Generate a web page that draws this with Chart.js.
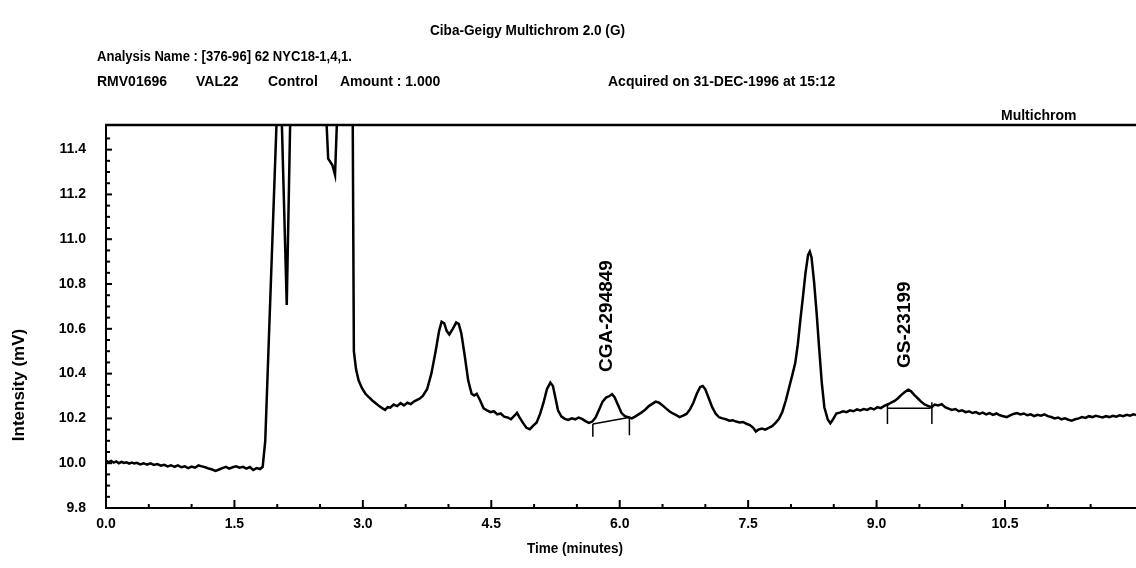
<!DOCTYPE html>
<html>
<head>
<meta charset="utf-8">
<script src="https://cdn.jsdelivr.net/npm/chart.js@4.4.1/dist/chart.umd.min.js"></script>
<style>
  html, body { margin: 0; padding: 0; background: #fff; }
  #wrap { width: 1136px; height: 568px; }
</style>
</head>
<body>
<div id="wrap"><canvas id="chart" width="1136" height="568"></canvas></div>
<script>
// trace, time in minutes / intensity in mV
const times = [
  0.00, 0.03, 0.06, 0.09, 0.12, 0.15, 0.18, 0.21, 0.24, 0.27,
  0.30, 0.33, 0.36, 0.40, 0.44, 0.48, 0.52, 0.56, 0.60, 0.64,
  0.68, 0.72, 0.76, 0.80, 0.84, 0.88, 0.92, 0.96, 1.00, 1.04,
  1.08, 1.12, 1.16, 1.20, 1.24, 1.28, 1.32, 1.36, 1.40, 1.44,
  1.48, 1.52, 1.56, 1.60, 1.64, 1.68, 1.72, 1.76, 1.80, 1.83,
  1.86, 1.99, 2.02, 2.055, 2.111, 2.15, 2.30, 2.578, 2.595, 2.645,
  2.675, 2.695, 2.80, 2.882, 2.895, 2.92, 2.95, 2.99, 3.03, 3.07,
  3.11, 3.15, 3.19, 3.23, 3.26, 3.29, 3.32, 3.36, 3.40, 3.44,
  3.48, 3.52, 3.56, 3.60, 3.64, 3.67, 3.70, 3.75, 3.80, 3.85,
  3.89, 3.92, 3.95, 3.98, 4.01, 4.05, 4.09, 4.12, 4.15, 4.19,
  4.23, 4.27, 4.30, 4.33, 4.37, 4.41, 4.45, 4.49, 4.53, 4.57,
  4.61, 4.65, 4.69, 4.73, 4.77, 4.80, 4.83, 4.87, 4.91, 4.95,
  4.99, 5.03, 5.07, 5.11, 5.15, 5.19, 5.22, 5.25, 5.28, 5.32,
  5.36, 5.40, 5.44, 5.48, 5.52, 5.56, 5.60, 5.64, 5.68, 5.72,
  5.76, 5.80, 5.84, 5.88, 5.91, 5.94, 5.98, 6.02, 6.06, 6.10,
  6.14, 6.18, 6.22, 6.26, 6.30, 6.34, 6.38, 6.42, 6.46, 6.50,
  6.54, 6.58, 6.62, 6.66, 6.70, 6.74, 6.78, 6.82, 6.86, 6.90,
  6.94, 6.97, 7.00, 7.04, 7.08, 7.12, 7.16, 7.20, 7.24, 7.28,
  7.32, 7.36, 7.40, 7.44, 7.48, 7.52, 7.56, 7.59, 7.62, 7.66,
  7.70, 7.74, 7.78, 7.82, 7.86, 7.90, 7.94, 7.98, 8.02, 8.05,
  8.08, 8.11, 8.14, 8.17, 8.20, 8.22, 8.24, 8.27, 8.30, 8.33,
  8.36, 8.39, 8.43, 8.46, 8.49, 8.53, 8.57, 8.61, 8.65, 8.69,
  8.73, 8.77, 8.81, 8.85, 8.89, 8.93, 8.97, 9.01, 9.05, 9.09,
  9.13, 9.17, 9.21, 9.25, 9.29, 9.33, 9.37, 9.40, 9.44, 9.48,
  9.52, 9.56, 9.60, 9.64, 9.68, 9.72, 9.76, 9.80, 9.84, 9.88,
  9.92, 9.96, 10.00, 10.04, 10.08, 10.12, 10.16, 10.20, 10.24, 10.28,
  10.32, 10.36, 10.40, 10.44, 10.48, 10.52, 10.56, 10.60, 10.64, 10.68,
  10.72, 10.76, 10.80, 10.84, 10.88, 10.92, 10.96, 11.00, 11.04, 11.08,
  11.12, 11.16, 11.20, 11.24, 11.28, 11.32, 11.36, 11.40, 11.44, 11.48,
  11.52, 11.56, 11.60, 11.64, 11.68, 11.72, 11.76, 11.80, 11.84, 11.88,
  11.92, 11.96, 12.00, 12.03
];
const intensity = [
  10.012, 10.004, 10.010, 10.003, 10.008, 10.000, 10.006, 10.001, 10.004, 9.998,
  10.003, 9.999, 10.002, 9.995, 10.000, 9.994, 9.999, 9.992, 9.996, 9.989,
  9.993, 9.986, 9.991, 9.984, 9.990, 9.982, 9.986, 9.978, 9.985, 9.980,
  9.990, 9.986, 9.982, 9.976, 9.972, 9.966, 9.972, 9.978, 9.984, 9.976,
  9.982, 9.986, 9.980, 9.984, 9.976, 9.983, 9.970, 9.978, 9.974, 9.984,
  10.10, 11.50, 12.30, 11.50, 10.706, 11.50, 12.50, 11.50, 11.36, 11.33,
  11.287, 11.50, 12.50, 11.50, 10.50, 10.42, 10.37, 10.335, 10.31, 10.295,
  10.28, 10.268, 10.255, 10.245, 10.238, 10.25, 10.248, 10.262, 10.255, 10.268,
  10.258, 10.27, 10.264, 10.276, 10.284, 10.29, 10.30, 10.33, 10.40, 10.50,
  10.59, 10.632, 10.625, 10.59, 10.575, 10.60, 10.628, 10.622, 10.58, 10.48,
  10.37, 10.31, 10.302, 10.31, 10.28, 10.245, 10.236, 10.228, 10.232, 10.218,
  10.222, 10.208, 10.204, 10.196, 10.212, 10.225, 10.205, 10.18, 10.158, 10.152,
  10.168, 10.182, 10.22, 10.27, 10.33, 10.36, 10.345, 10.29, 10.235, 10.208,
  10.198, 10.193, 10.20, 10.196, 10.204, 10.198, 10.188, 10.18, 10.186, 10.205,
  10.24, 10.275, 10.293, 10.30, 10.308, 10.295, 10.26, 10.225, 10.21, 10.205,
  10.20, 10.208, 10.218, 10.228, 10.24, 10.255, 10.265, 10.275, 10.27, 10.258,
  10.245, 10.232, 10.222, 10.215, 10.206, 10.212, 10.22, 10.24, 10.27, 10.31,
  10.34, 10.345, 10.33, 10.29, 10.25, 10.222, 10.205, 10.20, 10.196, 10.19,
  10.192, 10.186, 10.182, 10.184, 10.176, 10.17, 10.158, 10.142, 10.15, 10.155,
  10.15, 10.158, 10.165, 10.18, 10.198, 10.23, 10.28, 10.34, 10.40, 10.447,
  10.53, 10.64, 10.743, 10.85, 10.93, 10.945, 10.92, 10.81, 10.67, 10.51,
  10.36, 10.25, 10.195, 10.178, 10.195, 10.222, 10.226, 10.232, 10.228, 10.236,
  10.232, 10.24, 10.236, 10.242, 10.238, 10.246, 10.24, 10.25, 10.246, 10.256,
  10.262, 10.27, 10.278, 10.29, 10.305, 10.318, 10.328, 10.322, 10.305, 10.29,
  10.275, 10.262, 10.256, 10.25, 10.262, 10.258, 10.264, 10.25, 10.244, 10.238,
  10.242, 10.232, 10.236, 10.228, 10.232, 10.224, 10.228, 10.22, 10.226, 10.218,
  10.224, 10.216, 10.222, 10.214, 10.21, 10.206, 10.214, 10.22, 10.224, 10.218,
  10.222, 10.214, 10.218, 10.21, 10.216, 10.212, 10.218, 10.21, 10.206, 10.20,
  10.204, 10.196, 10.20, 10.194, 10.19, 10.196, 10.20, 10.206, 10.202, 10.21,
  10.206, 10.212, 10.208, 10.204, 10.21, 10.206, 10.212, 10.208, 10.214, 10.21,
  10.216, 10.212, 10.218, 10.215
];

// integration baselines and their drop marks
const cgaBaseT = [5.686, 6.121];
const cgaBaseV = [10.175, 10.205];
const cgaMarkT = [5.686, 6.113];
const cgaMarkHigh = [10.175, 10.203];
const cgaMarkLow = [10.118, 10.125];
const gsBaseT = [9.127, 9.630];
const gsBaseV = [10.245, 10.245];
const gsMarkT = [9.127, 9.646];
const gsMarkHigh = [10.268, 10.272];
const gsMarkLow = [10.175, 10.175];

// peak names and where they sit
const peakNames = ["CGA-294849", "GS-23199"];
const peakTimes = [5.853, 9.334];
const peakLabelBase = [10.407, 10.425];

const xMin = 0, xMax = 12.03, xStep = 0.5, xLabelStep = 1.5, xLastLabel = 10.5;
const yMin = 9.8, yMax = 11.51, yStep = 0.05, yLabelStep = 0.2;

if (times.length !== intensity.length) console.warn("trace arrays differ", times.length, intensity.length);

const narrow = "'Liberation Sans Narrow', 'Arial Narrow', 'Liberation Sans', Arial, sans-serif";
const isMult = (v, s) => Math.abs(v / s - Math.round(v / s)) < 1e-6;

const pts = (ts, vs) => ts.map((t, i) => ({ x: t, y: vs[i] }));
const marks = (ts, hi, lo) => {
  const out = [];
  ts.forEach((t, i) => {
    out.push({ x: t, y: hi[i] }, { x: t, y: lo[i] }, { x: t, y: null });
  });
  return out;
};

const lineSet = (data, w) => ({
  data: data,
  borderColor: "#000",
  borderWidth: w,
  pointRadius: 0,
  tension: 0,
  spanGaps: false,
  fill: false
});

const decor = {
  id: "decor",
  afterDraw(chart) {
    const ctx = chart.ctx;
    const xs = chart.scales.x;
    const ys = chart.scales.y;
    const a = chart.chartArea;
    ctx.save();
    ctx.strokeStyle = "#000";
    ctx.fillStyle = "#000";

    // frame line on top
    ctx.lineWidth = 2.5;
    ctx.beginPath();
    ctx.moveTo(a.left - 1, a.top);
    ctx.lineTo(a.right, a.top);
    ctx.stroke();

    // inward tick marks
    ctx.lineWidth = 2;
    ys.ticks.forEach((t) => {
      if (!isMult(t.value, yStep)) return;
      const py = ys.getPixelForValue(t.value);
      const len = isMult(t.value, yLabelStep) ? 6 : 4;
      ctx.beginPath();
      ctx.moveTo(a.left, py);
      ctx.lineTo(a.left + len, py);
      ctx.stroke();
    });
    xs.ticks.forEach((t) => {
      if (!isMult(t.value, xStep)) return;
      const px = xs.getPixelForValue(t.value);
      const len = isMult(t.value, xLabelStep) ? 8 : 4;
      ctx.beginPath();
      ctx.moveTo(px, a.bottom);
      ctx.lineTo(px, a.bottom - len);
      ctx.stroke();
    });

    // header lines
    const put = (txt, x, y, w, size) => {
      ctx.font = "bold " + size + "px " + narrow;
      ctx.textAlign = "left";
      ctx.textBaseline = "middle";
      ctx.fillText(txt, x, y, w);
    };
    put("Ciba-Geigy Multichrom 2.0 (G)", 430, 31, 195, 14);
    put("Analysis Name : [376-96] 62 NYC18-1,4,1.", 97, 57, 255, 14);
    put("RMV01696", 97, 82, 86, 14);
    put("VAL22", 196, 82, 50, 14);
    put("Control", 268, 82, 50, 14);
    put("Amount : 1.000", 340, 82, 117, 14);
    put("Acquired on 31-DEC-1996 at 15:12", 608, 82, 234, 14);
    put("Multichrom", 1001, 116, 99, 14);

    // axis titles
    ctx.font = "bold 14px " + narrow;
    ctx.textAlign = "center";
    ctx.textBaseline = "middle";
    ctx.fillText("Time (minutes)", 575, 549, 96);
    ctx.save();
    ctx.translate(19, 385);
    ctx.rotate(-Math.PI / 2);
    ctx.font = "bold 17px 'Liberation Sans', Arial, sans-serif";
    ctx.fillText("Intensity (mV)", 0, 0);
    ctx.restore();

    // peak names, rotated
    ctx.font = "bold 19px 'Liberation Sans', Arial, sans-serif";
    ctx.textAlign = "left";
    ctx.textBaseline = "middle";
    peakNames.forEach((name, i) => {
      ctx.save();
      ctx.translate(xs.getPixelForValue(peakTimes[i]), ys.getPixelForValue(peakLabelBase[i]));
      ctx.rotate(-Math.PI / 2);
      ctx.fillText(name, 0, 0);
      ctx.restore();
    });
    ctx.restore();
  }
};

new Chart(document.getElementById("chart"), {
  type: "line",
  data: {
    datasets: [
      lineSet(pts(times, intensity), 2.5),
      lineSet(pts(cgaBaseT, cgaBaseV), 1.5),
      lineSet(marks(cgaMarkT, cgaMarkHigh, cgaMarkLow), 1.5),
      lineSet(pts(gsBaseT, gsBaseV), 1.5),
      lineSet(marks(gsMarkT, gsMarkHigh, gsMarkLow), 1.5)
    ]
  },
  options: {
    responsive: false,
    animation: false,
    layout: { padding: { top: 125, left: 0, right: 0, bottom: 0 } },
    plugins: { legend: { display: false }, tooltip: { enabled: false } },
    scales: {
      x: {
        type: "linear",
        min: xMin,
        max: xMax,
        afterFit: (s) => { s.height = 60; s.paddingLeft = 0; s.paddingRight = 0; },
        grid: { display: false, drawTicks: false },
        border: { display: true, color: "#000", width: 2 },
        ticks: {
          stepSize: xStep,
          autoSkip: false,
          maxRotation: 0,
          padding: 8,
          color: "#000",
          font: { family: narrow, size: 14, weight: "bold" },
          callback: (v) => (isMult(v, xLabelStep) && v <= xLastLabel + 1e-6 ? Number(v).toFixed(1) : "")
        }
      },
      y: {
        min: yMin,
        max: yMax,
        afterFit: (s) => { s.width = 106; s.paddingTop = 0; s.paddingBottom = 0; },
        grid: { display: false, drawTicks: false },
        border: { display: true, color: "#000", width: 2 },
        ticks: {
          stepSize: yStep,
          autoSkip: false,
          padding: 20,
          color: "#000",
          font: { family: narrow, size: 14, weight: "bold" },
          callback: (v) => (isMult(v, yLabelStep) ? Number(v).toFixed(1) : "")
        }
      }
    }
  },
  plugins: [decor]
});
</script>
</body>
</html>
